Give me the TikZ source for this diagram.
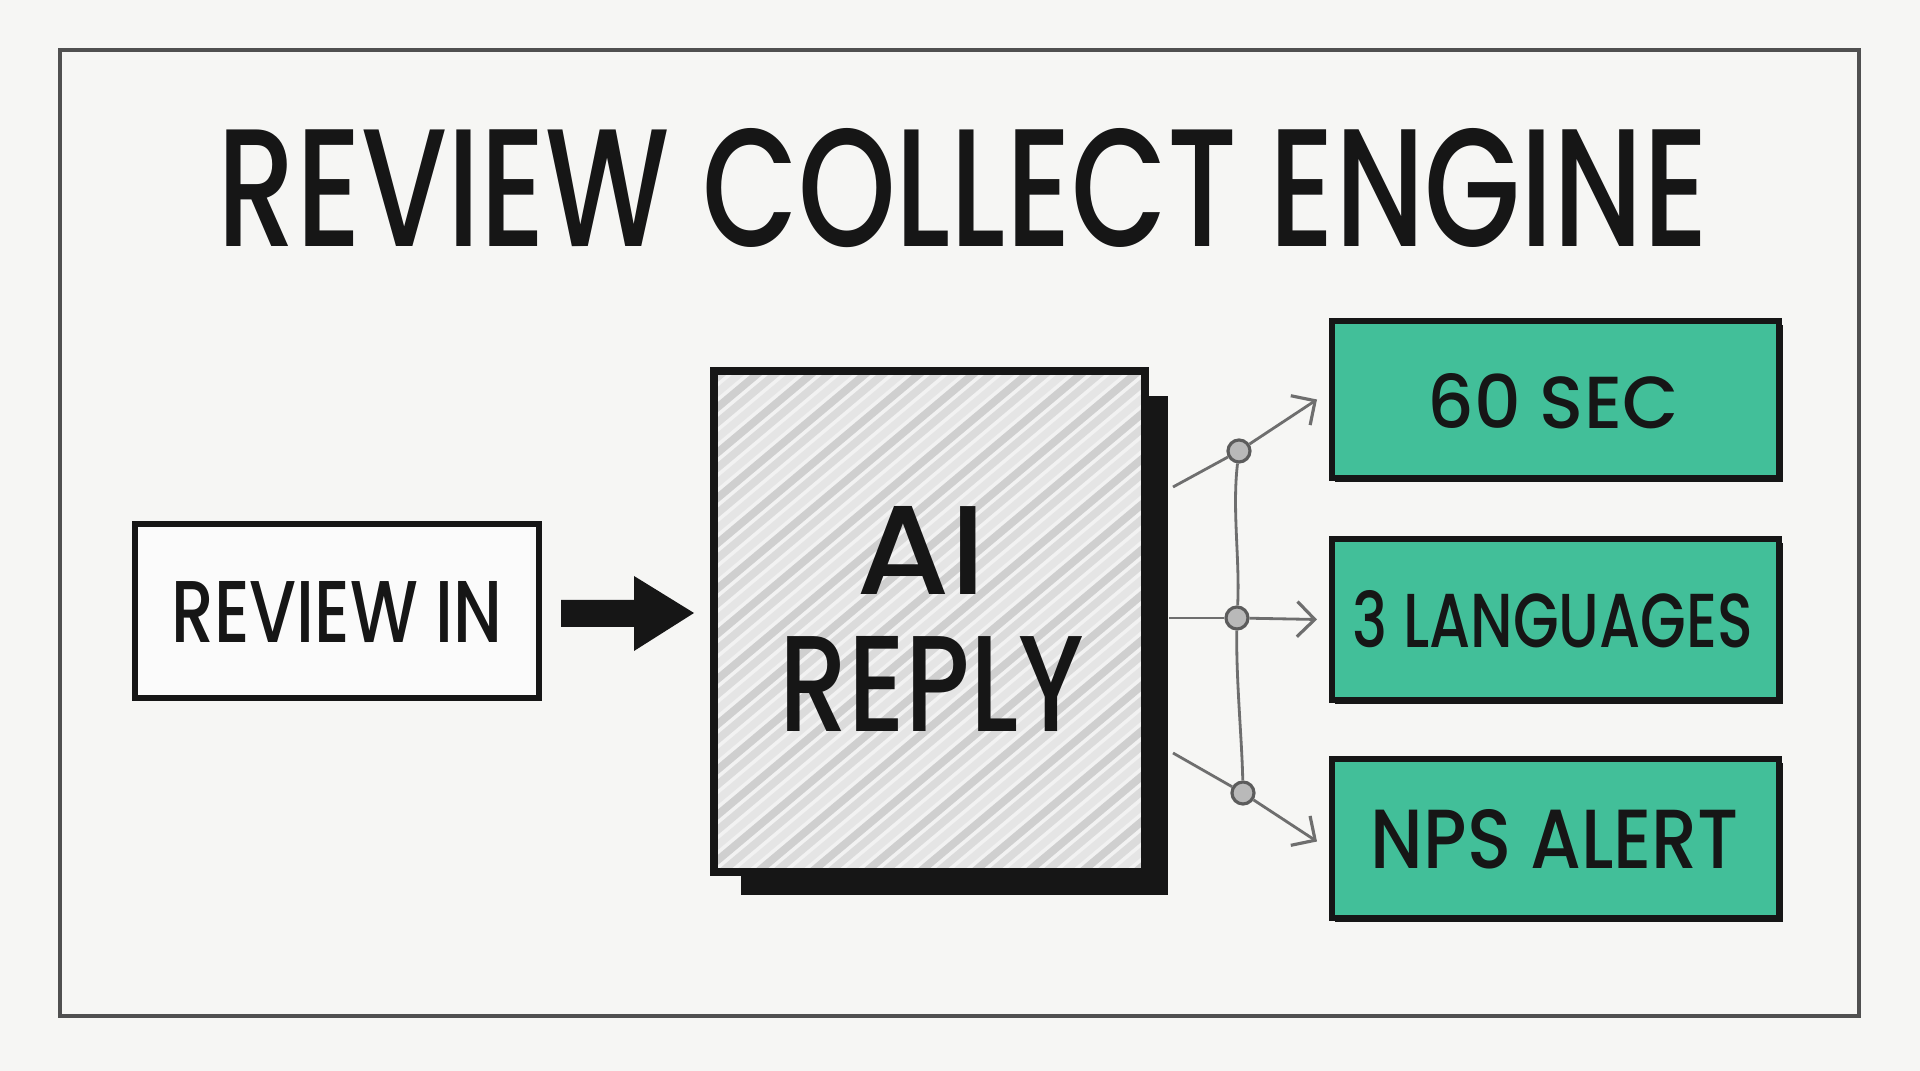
\documentclass[tikz,border=0pt]{standalone}
\usepackage{fontspec}
\setmainfont{Poppins Medium}
\usetikzlibrary{arrows.meta}
\definecolor{paper}{RGB}{246,246,244}
\definecolor{mint}{RGB}{66,191,153}
\definecolor{ink}{RGB}{22,22,22}
\definecolor{wire}{RGB}{110,110,110}
\begin{document}
\begin{tikzpicture}[x=0.01cm,y=-0.01cm,
  framebox/.style={draw=ink!75, line width=0.9pt},
  plainbox/.style={draw=ink, line width=1.5pt, fill=white!60!paper, inner sep=0pt},
  aibox/.style={draw=ink, line width=2.2pt, inner sep=0pt, outer sep=0pt},
  greenbox/.style={draw=ink, line width=1.7pt, fill=mint, inner sep=0pt, minimum width=447*0.01cm},
  txt/.style={inner sep=0pt, text=ink},
  hub/.style={circle, draw=ink!70, line width=0.9pt, fill=gray!55, minimum size=0.22cm, inner sep=0pt},
  wireline/.style={draw=wire, line width=0.8pt},
  arr/.style={wireline, -{Straight Barb[length=5pt,width=10pt,line width=0.9pt]}},
  hatch/.style={line width=2.2pt, line cap=round}
]
\fill[paper] (0,0) rectangle (1920,1071);
\useasboundingbox (0,0) rectangle (1920,1071);

% outer frame
\draw[framebox] (60,50) rectangle (1859,1016);

% title
\node[txt] (title) at (963,188) {\resizebox{14.9cm}{1.18cm}{\fontsize{40}{40}\selectfont REVIEW COLLECT ENGINE}};

% review in box
\node[plainbox, minimum width=4.04cm, minimum height=1.74cm] (rin) at (337,611) {};
\node[txt] (rintxt) at (337,612) {\resizebox{3.31cm}{0.61cm}{\fontsize{30}{30}\selectfont REVIEW IN}};

% block arrow
\fill[ink] (561,600) -- (634,600) -- (634,576) -- (694,613) -- (634,651) -- (634,627) -- (561,627) -- cycle;
\coordinate (arrtip) at (694,613);

% AI reply box with shadow
\node[fill=ink, minimum width=4.27cm, minimum height=4.99cm, inner sep=0pt] (aishadow) at (954.5,645.5) {};
\node[aibox, fill=gray!10, minimum width=4.31cm, minimum height=5.01cm] (ai) at (929.5,621.5) {};
\begin{scope}
  \clip (ai.north west) rectangle (ai.south east);
  \foreach \k in {0,...,60} {
    \pgfmathsetmacro{\xx}{100+\k*18}
    \pgfmathsetmacro{\gg}{mod(\k,3)==0 ? 38 : (mod(\k,3)==1 ? 28 : 20)}
    \draw[hatch, draw=gray!\gg] (\xx,880) -- (\xx+620,360);
  }
\end{scope}
\draw[aibox] (ai.north west) rectangle (ai.south east);
\node[txt] (aitxt) at (921,550) {\resizebox{1.29cm}{0.88cm}{\fontsize{40}{40}\selectfont AI}};
\node[txt] (replytxt) at (932,684) {\resizebox{3.04cm}{0.95cm}{\fontsize{40}{40}\selectfont REPLY}};

% green boxes with dark offset edge
\foreach \cy/\hh/\nm in {399.5/1.57/g1s, 619.5/1.61/g2s, 838.5/1.59/g3s} {
  \node[fill=ink, minimum width=4.47cm, minimum height=\hh cm, inner sep=0pt] (\nm) at (1559,\cy+4) {};
}
\node[greenbox, minimum height=1.57cm] (g1) at (1555.5,399.5) {};
\node[greenbox, minimum height=1.61cm] (g2) at (1555.5,619.5) {};
\node[greenbox, minimum height=1.59cm] (g3) at (1555.5,838.5) {};
\node[txt] (t1) at (1553,401) {\resizebox{2.51cm}{0.55cm}{\fontsize{30}{30}\selectfont 60 SEC}};
\node[txt] (t2) at (1553,619) {\resizebox{4.00cm}{0.57cm}{\fontsize{30}{30}\selectfont 3 LANGUAGES}};
\node[txt] (t3) at (1555,839) {\resizebox{3.68cm}{0.59cm}{\fontsize{30}{30}\selectfont NPS ALERT}};

% connectors
\coordinate (s1) at (1173,487);
\coordinate (s2) at (1169,618);
\coordinate (s3) at (1173,753);
\node[hub] (d1) at (1239,451) {};
\node[hub] (d2) at (1237,618) {};
\node[hub] (d3) at (1243,793) {};
\draw[wireline] (d1) .. controls (1232,510) and (1240,560) .. (d2);
\draw[wireline] (d2) .. controls (1236,680) and (1242,740) .. (d3);
\draw[wireline] (s1) -- (d1);
\draw[wireline] (s2) -- (d2);
\draw[wireline] (s3) -- (d3);
\draw[arr] (d1) -- ([xshift=-0.12cm,yshift=0cm]g1.west);
\draw[arr] (d2) -- ([xshift=-0.12cm]g2.west);
\draw[arr] (d3) -- ([xshift=-0.12cm,yshift=-0.03cm]g3.west);
\end{tikzpicture}
\end{document}
